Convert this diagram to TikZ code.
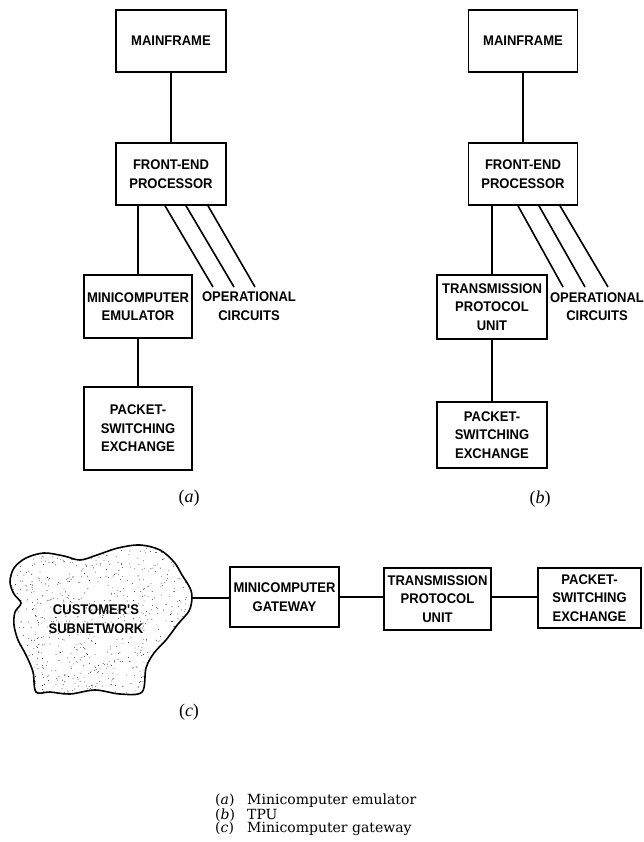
\documentclass[tikz,border=0pt]{standalone}
\usepackage{fontspec}
\newfontfamily\boxfont{Liberation Sans}[FakeStretch=0.93]
\newfontfamily\legfont{DejaVu Serif}
\newfontfamily\labfont{Liberation Serif}
\begin{document}
\begin{tikzpicture}[x=1pt,y=-1pt,
  blk/.style={draw, line width=1.6pt, inner sep=0pt, align=center,
    font=\boxfont\bfseries\fontsize{14}{18.5}\selectfont},
  lbl/.style={inner sep=0pt, align=center, font=\boxfont\bfseries\fontsize{14}{18.5}\selectfont},
  conn/.style={line width=1.6pt},
  plab/.style={inner sep=0pt, font=\labfont\fontsize{18}{20}\selectfont}]
\useasboundingbox (0,0) rectangle (643,842);

% ---------- (a) ----------
\node[blk, minimum width=110pt, minimum height=62pt] (mfa) at (171,41) {MAINFRAME};
\node[blk, minimum width=110pt, minimum height=62pt] (fepa) at (171,174) {FRONT-END\\PROCESSOR};
\node[blk, minimum width=108pt, minimum height=63pt] (mea) at (138,306.5) {MINICOMPUTER\\EMULATOR};
\node[blk, minimum width=108pt, minimum height=83pt] (psea) at (138,428.5) {PACKET-\\SWITCHING\\EXCHANGE};
\node[lbl] (opa) at (249,306) {OPERATIONAL\\CIRCUITS};
\coordinate (oa1) at (213,287);
\coordinate (oa2) at (234,287);
\coordinate (oa3) at (255,287);
\draw[conn] (mfa) -- (fepa);
\draw[conn] (mea.north) -- (mea.north |- fepa.south);
\draw[conn] (mea) -- (psea);
\draw[conn] ([xshift=-6pt]fepa.south) -- (oa1);
\draw[conn] ([xshift=15pt]fepa.south) -- (oa2);
\draw[conn] ([xshift=37pt]fepa.south) -- (oa3);
\node[plab] (la) at (189,498) {(\textit{a})};

% ---------- (b) ----------
\node[blk, minimum width=109pt, minimum height=62pt] (mfb) at (523,41) {MAINFRAME};
\node[blk, minimum width=109pt, minimum height=62pt] (fepb) at (523,174) {FRONT-END\\PROCESSOR};
\node[blk, minimum width=110pt, minimum height=64pt] (tpub) at (492,307) {TRANSMISSION\\PROTOCOL\\UNIT};
\node[blk, minimum width=110pt, minimum height=66pt] (pseb) at (492,435) {PACKET-\\SWITCHING\\EXCHANGE};
\node[lbl] (opb) at (597,306.5) {OPERATIONAL\\CIRCUITS};
\coordinate (ob1) at (563,287);
\coordinate (ob2) at (585,287);
\coordinate (ob3) at (608,287);
\draw[conn] (mfb) -- (fepb);
\draw[conn] (tpub.north) -- (tpub.north |- fepb.south);
\draw[conn] (tpub) -- (pseb);
\draw[conn] ([xshift=-5pt]fepb.south) -- (ob1);
\draw[conn] ([xshift=16pt]fepb.south) -- (ob2);
\draw[conn] ([xshift=37pt]fepb.south) -- (ob3);
\node[plab] (lb) at (540,499) {(\textit{b})};

% ---------- (c) ----------
\begin{scope}
\clip plot[smooth cycle, tension=0.55] coordinates {(36,692) (33,672) (26,655) (18,640) (14,625) (15,612) (21,603) (14,594) (10,582) (14,568) (26,558) (44,553) (64,556) (80,560) (97,555) (118,548) (140,545) (160,550) (174,562) (182,575) (190,588) (192,598) (189,611) (178,624) (166,640) (154,653) (146,668) (142,692) (120,694) (95,690) (70,694) (50,692)};
\pgfmathsetseed{7}
\foreach \i in {1,...,900} {\fill ({6+rnd*190},{542+rnd*156}) circle (0.42pt);}
\end{scope}
\draw[line width=1.6pt] plot[smooth cycle, tension=0.55] coordinates {(36,692) (33,672) (26,655) (18,640) (14,625) (15,612) (21,603) (14,594) (10,582) (14,568) (26,558) (44,553) (64,556) (80,560) (97,555) (118,548) (140,545) (160,550) (174,562) (182,575) (190,588) (192,598) (189,611) (178,624) (166,640) (154,653) (146,668) (142,692) (120,694) (95,690) (70,694) (50,692)};
\node[lbl] (cloud) at (96,619) {CUSTOMER'S\\SUBNETWORK};
\coordinate (cloudE) at (192,598);

\node[blk, minimum width=109pt, minimum height=60pt] (mgc) at (284.5,597) {MINICOMPUTER\\GATEWAY};
\node[blk, minimum width=107pt, minimum height=62pt] (tpuc) at (437.5,599) {TRANSMISSION\\PROTOCOL\\UNIT};
\node[blk, minimum width=103pt, minimum height=60pt] (psec) at (589.5,598) {PACKET-\\SWITCHING\\EXCHANGE};
\draw[conn] (cloudE) -- (mgc.west |- cloudE);
\draw[conn] (mgc.east) -- (tpuc.west |- mgc.east);
\draw[conn] (tpuc.east |- mgc.east) -- (psec.west |- mgc.east);
\node[plab] (lc) at (189,712) {(\textit{c})};

% ---------- legend ----------
\node[anchor=west, inner sep=0pt, align=left, font=\legfont\fontsize{14}{13}\selectfont] (leg) at (215,815)
 {\makebox[32pt][l]{(\textit{a})}Minicomputer emulator\\
  \makebox[32pt][l]{(\textit{b})}TPU\\
  \makebox[32pt][l]{(\textit{c})}Minicomputer gateway};
\end{tikzpicture}
\end{document}
